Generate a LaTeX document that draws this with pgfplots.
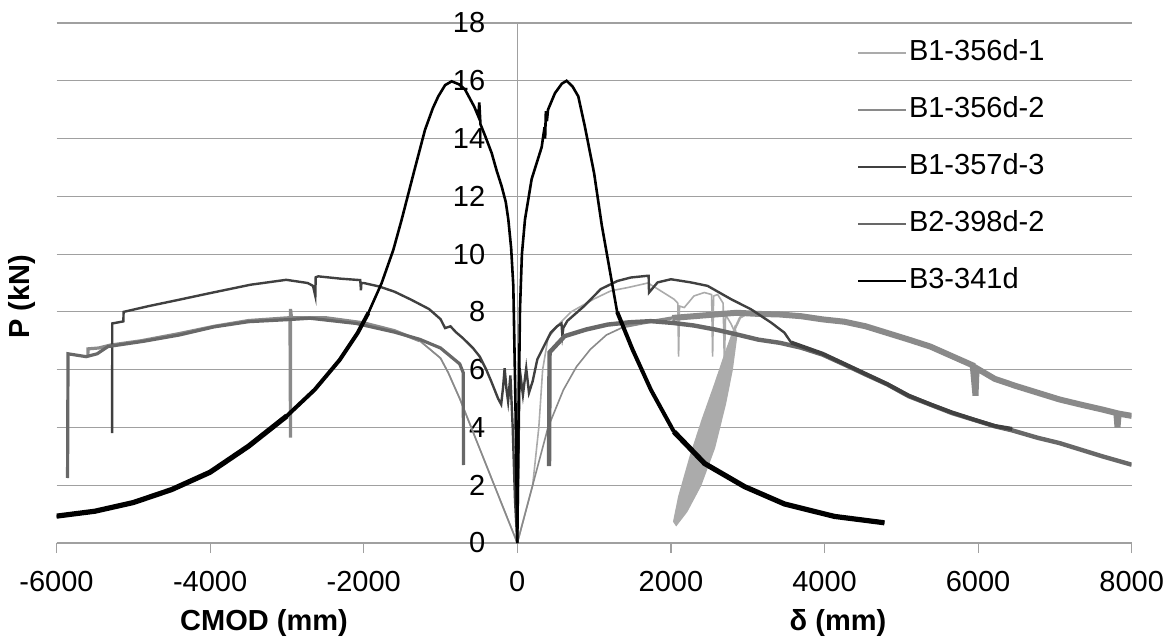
\documentclass[border=0pt]{standalone}
\usepackage{pgfplots}
\pgfplotsset{compat=1.18}
\usepackage{fontspec}
\setmainfont{Liberation Sans}
\definecolor{cA}{HTML}{ABABAB}
\definecolor{cB}{HTML}{8A8A8A}
\definecolor{cC}{HTML}{404040}
\definecolor{cD}{HTML}{686868}
\definecolor{gridgray}{HTML}{A0A0A0}
\begin{document}
\fontsize{14.5}{17}\selectfont
\begin{tikzpicture}
\path[use as bounding box] (-28.25pt,-47.5pt) rectangle (558.75pt,271.5pt);
\begin{axis}[
  at={(0pt,0pt)}, anchor=south west,
  scale only axis, width=537.6pt, height=260pt,
  xmin=-6000, xmax=8000, ymin=0, ymax=18,
  axis lines=center, axis line style={-, draw=gridgray, line width=0.6pt},
  xtick={-6000,-4000,-2000,0,2000,4000,6000,8000},
  ytick={0,2,4,6,8,10,12,14,16,18},
  hide obscured x ticks=false, hide obscured y ticks=false,
  ymajorgrids, grid style={draw=gridgray, line width=0.6pt},
  tick align=outside, major tick length=5pt,
  x tick style={draw=gridgray, line width=0.6pt},
  y tick style={draw=none},
  /pgf/number format/assume math mode=true,
  /pgf/number format/1000 sep={},
  tick label style={font=\fontsize{14.5}{17}\selectfont},
  xticklabel style={yshift=-4pt},
  yticklabel style={xshift=-6pt},
  legend style={at={(0.7445,0.973)}, anchor=north west, draw=none, fill=none,
    inner sep=0pt, row sep=13pt, font=\fontsize{14.5}{17}\selectfont,
    nodes={inner sep=1pt, text height=10.5pt, text depth=3pt}},
  legend cell align=left,
  legend image code/.code={\draw[#1, line width=0.8pt] (0pt,0pt) -- (24pt,0pt);},
]
% ---------------- B1-356d-1 ----------------
\addplot[cA, line width=0.8pt] coordinates {
(-2000,7.6) (-1600,7.35)
(-1270,7.0) (-1000,6.4) (-900,5.9) (-750,5.0) (-600,4.0) (-300,2.0) (0,0)
(200,2.0) (280,4.0) (330,6.0) (400,7.1) (550,7.6) (700,8.0) (1000,8.45) (1220,8.73)
(1435,8.84) (1700,9.0) (1830,8.79) (2040,8.44) (2090,8.3) (2100,6.45) (2112,8.2)
(2174,8.15) (2300,8.55) (2435,8.67) (2530,8.6) (2543,6.45) (2556,8.55) (2609,8.6)
(2680,8.3) (2696,6.2) (2712,7.9) (2780,7.6) (2850,7.2)
};
\addlegendentry{B1-356d-1}
\addplot[cA, line width=1.3pt, fill=cA, forget plot] coordinates {
(2850,7.2) (2790,6.0) (2700,4.8) (2560,3.3) (2380,2.0) (2200,1.1) (2070,0.65)
(2045,0.75) (2110,1.6) (2260,3.0) (2420,4.3) (2580,5.5) (2720,6.6) (2830,7.4) (2850,7.2)
};
\addplot[cA, line width=1.2pt, forget plot] coordinates {
(2830,7.4) (2900,7.8) (3000,7.95)
};
% ---------------- B1-356d-2 ----------------
\addplot[cB, line width=0.8pt] coordinates {
(-1270,7.0) (-1000,6.4) (-900,5.9) (-750,5.0) (-600,4.0) (-300,2.0) (0,0)
(200,2.0) (400,4.0) (600,5.3) (770,6.1) (950,6.7) (1160,7.2) (1400,7.5)
};
\addlegendentry{B1-356d-2}
\addplot[cB, line width=1.6pt, forget plot] coordinates {
(-1270,7.0) (-1600,7.35) (-2000,7.62) (-2500,7.8) (-2940,7.8) (-2953,8.1) (-2953,3.65)
(-2960,7.8) (-3500,7.7) (-3950,7.5)
(-4400,7.25) (-4900,7.0) (-5300,6.85) (-5450,6.75) (-5590,6.72) (-5592,6.45)
};
\addplot[cB, line width=1.6pt, forget plot] coordinates {
(1400,7.5) (1700,7.65) (2017,7.79)
};
\addplot[cB, line width=3pt, forget plot] coordinates {
(2017,7.79) (2300,7.85) (2577,7.91) (2857,7.97) (3137,7.93) (3417,7.91) (3697,7.85)
(3977,7.74) (4258,7.66) (4538,7.5) (4818,7.27) (5098,7.04) (5378,6.8) (5658,6.47)
(5930,6.15) (5966,5.1) (5980,6.05) (6218,5.68) (6498,5.43) (6778,5.2) (7058,4.97)
(7338,4.79) (7618,4.62) (7800,4.5) (7815,4.0) (7830,4.48) (8000,4.4)
};
% ---------------- B1-357d-3 ----------------
\addplot[cC, line width=1.2pt] coordinates {
(-5276,3.8) (-5274,7.6) (-5130,7.67) (-5126,8.0) (-4800,8.2) (-4405,8.42) (-4000,8.65)
(-3474,8.94) (-3009,9.11) (-2730,9.0) (-2660,8.9) (-2630,8.55) (-2625,9.2) (-2591,9.23)
(-2300,9.15) (-2045,9.1) (-2036,8.75) (-2030,9.0) (-2000,9.0) (-1800,8.88) (-1600,8.7)
(-1381,8.42) (-1150,8.1) (-1000,7.75) (-940,7.44) (-870,7.5) (-800,7.3) (-708,7.09)
(-578,6.75) (-491,6.46) (-404,6.0) (-340,5.6) (-250,5.0) (-210,4.8) (-185,5.4)
(-165,6.05) (-140,5.3) (-120,4.9) (-90,5.8) (-60,4.0) (-30,1.5) (0,0)
(15,3.0) (30,6.05) (73,5.13) (116,6.05) (152,5.2) (200,5.6) (261,6.36) (348,6.82)
(435,7.28) (522,7.51) (575,7.6) (587,7.2) (600,7.45) (652,7.69) (870,8.2) (1087,8.79)
(1304,9.07) (1478,9.19) (1696,9.25) (1710,9.25) (1715,8.67) (1826,9.02) (2000,9.13)
(2261,9.02) (2478,8.9) (2783,8.44) (3043,8.09) (3304,7.63) (3478,7.28) (3565,6.94)
};
\addlegendentry{B1-357d-3}
% ---------------- B2-398d-2 ----------------
\addplot[cD, line width=1.6pt] coordinates {
(-5856,2.25) (-5850,6.55) (-5614,6.45) (-5470,6.55) (-5330,6.8) (-4870,6.98) (-4400,7.2)
(-3950,7.48) (-3500,7.66) (-3000,7.73) (-2700,7.78) (-2100,7.6) (-1600,7.3) (-1270,7.05)
(-1000,6.75) (-750,6.2) (-705,5.9) (-700,2.7)
};
\addlegendentry{B2-398d-2}
\addplot[cD, line width=2.2pt, forget plot] coordinates {
(413,2.66) (420,6.6) (616,7.16) (896,7.39) (1176,7.56) (1457,7.64) (1737,7.68)
(2017,7.62) (2297,7.53) (2577,7.39) (2857,7.22) (3137,7.04) (3417,6.93) (3697,6.76)
(3977,6.52) (4258,6.18) (4538,5.83) (4818,5.49) (5098,5.08) (5378,4.79) (5658,4.5)
(5938,4.27) (6218,4.04) (6442,3.9) (6778,3.64) (7058,3.46) (7338,3.23) (7618,3.0)
(8000,2.71)
};
\addplot[cC, line width=2pt, forget plot] coordinates {
(3565,6.94) (3977,6.55) (4258,6.2) (4538,5.85) (4818,5.5) (5098,5.1) (5378,4.8)
(5658,4.52) (5938,4.28) (6218,4.05) (6442,3.95)
};
% ---------------- B3-341d ----------------
\addplot[black, line width=1.3pt] coordinates {
(-6000,0.93) (-5500,1.1) (-5000,1.4) (-4500,1.85) (-4000,2.45) (-3500,3.35) (-3000,4.4)
(-2637,5.31) (-2312,6.34) (-2079,7.27) (-1940,7.96) (-1766,9.0) (-1614,10.15)
(-1506,11.19) (-1350,12.8) (-1202,14.3) (-1100,15.05) (-1029,15.46) (-940,15.85)
(-855,15.98) (-760,15.88) (-681,15.7) (-560,15.1) (-508,14.77) (-495,15.25) (-480,14.5)
(-420,14.1) (-334,13.5) (-270,12.9) (-204,12.35) (-150,11.8) (-117,11.2) (-80,10.2)
(-52,8.9) (-25,5.0) (0,0)
(15,4.0) (35,8.1) (60,10.0) (100,11.2) (187,12.6) (317,13.7) (355,14.4) (362,14.0)
(372,14.95) (385,14.6) (400,15.0) (490,15.57) (580,15.9) (642,16.0) (720,15.8)
(794,15.46) (881,14.4) (1000,12.8) (1100,11.0) (1200,9.5) (1300,8.0) (1500,6.7)
(1740,5.3) (2040,3.85) (2440,2.75) (2960,1.95) (3480,1.35) (4130,0.92) (4780,0.7)
};
\addlegendentry{B3-341d}
\addplot[black, line width=2pt, forget plot] coordinates {
(-3000,4.4) (-2637,5.31) (-2312,6.34) (-2079,7.27) (-1940,7.96)
};
\addplot[black, line width=2.6pt, forget plot] coordinates {
(-6000,0.93) (-5500,1.1) (-5000,1.4) (-4500,1.85) (-4000,2.45) (-3500,3.35) (-3000,4.4)
};
\addplot[black, line width=2pt, forget plot] coordinates {
(1300,8.0) (1500,6.7) (1740,5.3) (2040,3.85)
};
\addplot[black, line width=2.6pt, forget plot] coordinates {
(2040,3.85) (2440,2.75) (2960,1.95) (3480,1.35) (4130,0.92) (4780,0.7)
};
\end{axis}
\node[font=\fontsize{14.5}{17}\selectfont\bfseries, rotate=90] at (-17.25pt,123pt) {P (kN)};
\node[font=\fontsize{14.5}{17}\selectfont\bfseries] at (103.75pt,-40pt) {CMOD (mm)};
\node[font=\fontsize{14.5}{17}\selectfont\bfseries] at (390.75pt,-40pt) {δ (mm)};
\end{tikzpicture}
\end{document}
